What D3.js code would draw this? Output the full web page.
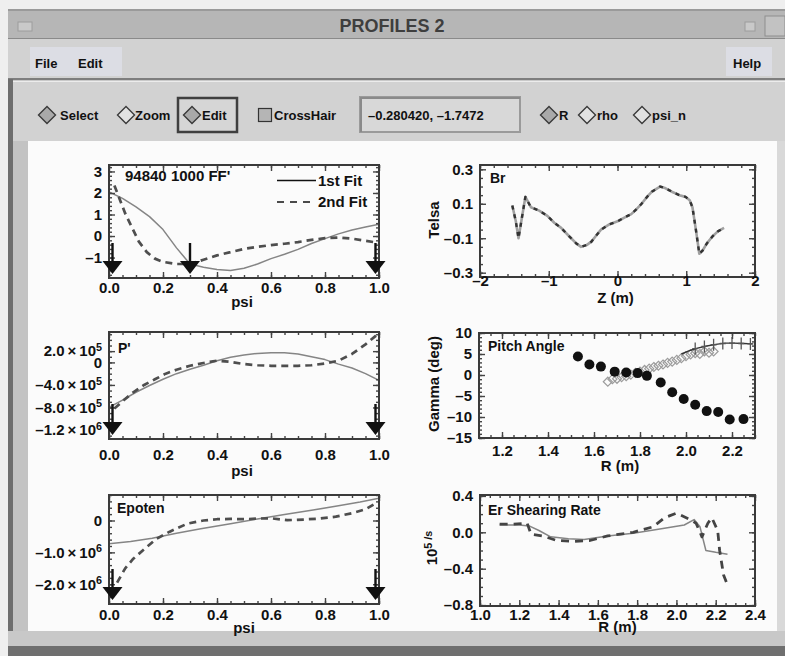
<!DOCTYPE html>
<html>
<head>
<meta charset="utf-8">
<script src="https://cdn.jsdelivr.net/npm/d3@7"></script>
<style>
  body { margin: 0; background: #ececec; }
  svg { display: block; font-family: "Liberation Sans", Arial, Helvetica, sans-serif; font-weight: bold; }
</style>
</head>
<body>
<script>
// ---- data ----
// FF' (psi)
var ffPsi1 = [0.0, 0.05, 0.10, 0.15, 0.20, 0.25, 0.30, 0.35, 0.40, 0.45, 0.50, 0.55, 0.60, 0.65, 0.70, 0.75, 0.80, 0.85, 0.90, 0.95, 1.0];
var ffFit1 = [2.05, 1.75, 1.35, 0.9, 0.3, -0.55, -1.3, -1.45, -1.55, -1.6, -1.5, -1.3, -1.05, -0.85, -0.62, -0.35, -0.12, 0.1, 0.28, 0.42, 0.55];
var ffPsi2 = [0.02, 0.04, 0.06, 0.085, 0.11, 0.14, 0.17, 0.20, 0.25, 0.30, 0.35, 0.40, 0.45, 0.50, 0.55, 0.60, 0.65, 0.70, 0.75, 0.80, 0.85, 0.90, 0.95, 1.0];
var ffFit2 = [2.35, 1.7, 1.05, 0.4, -0.25, -0.75, -1.05, -1.2, -1.3, -1.3, -1.1, -0.9, -0.75, -0.6, -0.5, -0.42, -0.36, -0.28, -0.18, -0.1, -0.07, -0.12, -0.22, -0.32];
var ffArrows = [0.013, 0.30, 0.987];
var ffTicks = [3, 2, 1, 0, -1];

// P' (psi)
var ppPsi1 = [0.0, 0.05, 0.10, 0.15, 0.20, 0.25, 0.30, 0.35, 0.40, 0.45, 0.50, 0.55, 0.60, 0.65, 0.70, 0.75, 0.80, 0.85, 0.90, 0.95, 1.0];
var ppFit1 = [-8.0e5, -6.7e5, -5.3e5, -4.1e5, -3.0e5, -2.0e5, -1.2e5, -0.5e5, 0.3e5, 0.9e5, 1.3e5, 1.6e5, 1.7e5, 1.7e5, 1.5e5, 1.0e5, 0.5e5, -0.3e5, -1.0e5, -2.0e5, -3.2e5];
var ppPsi2 = [0.02, 0.05, 0.09, 0.13, 0.17, 0.21, 0.25, 0.30, 0.35, 0.40, 0.45, 0.50, 0.55, 0.60, 0.65, 0.70, 0.75, 0.80, 0.85, 0.90, 0.95, 1.0];
var ppFit2 = [-8.2e5, -6.9e5, -5.3e5, -4.0e5, -3.0e5, -2.0e5, -1.3e5, -0.6e5, -0.1e5, 0.3e5, 0.1e5, -0.3e5, -0.5e5, -0.6e5, -0.6e5, -0.6e5, -0.5e5, -0.2e5, 0.3e5, 1.5e5, 3.2e5, 5.2e5];
var ppArrows = [0.013, 0.987];
var ppTicks = [2e5, 0, -4e5, -8e5, -1.2e6];

// Epoten (psi)
var epPsi1 = [0.0, 0.08, 0.16, 0.25, 0.34, 0.45, 0.55, 0.65, 0.75, 0.85, 0.93, 1.0];
var epFit1 = [-7.3e5, -6.6e5, -5.6e5, -4.0e5, -2.6e5, -1.0e5, 0.5e5, 1.9e5, 3.2e5, 4.6e5, 5.8e5, 7.0e5];
var epPsi2 = [0.03, 0.06, 0.09, 0.125, 0.175, 0.225, 0.29, 0.35, 0.40, 0.45, 0.50, 0.55, 0.60, 0.66, 0.72, 0.78, 0.84, 0.90, 0.95, 0.99];
var epFit2 = [-1.95e6, -1.5e6, -1.2e6, -9.4e5, -5.8e5, -3.5e5, -1.0e5, 0.0, 0.4e5, 0.5e5, 0.4e5, 0.6e5, 0.7e5, 0.1e5, 0.3e5, 0.6e5, 1.2e5, 2.3e5, 3.5e5, 5.5e5];
var epArrows = [0.013, 0.987];
var epTicks = [0, -1e6, -2e6];

var psiTicks = [0, 0.2, 0.4, 0.6, 0.8, 1.0];

// Br (Z)
var brZ = [-1.53, -1.48, -1.44, -1.39, -1.34, -1.26, -1.14, -1.02, -0.92, -0.82, -0.7, -0.6, -0.53, -0.45, -0.38, -0.3, -0.24, -0.12, 0.01, 0.1, 0.2, 0.28, 0.35, 0.43, 0.5, 0.62, 0.7, 0.79, 0.9, 0.99, 1.05, 1.09, 1.14, 1.19, 1.24, 1.3, 1.38, 1.46, 1.55];
var brVal = [0.09, 0.0, -0.1, 0.02, 0.14, 0.08, 0.06, 0.03, -0.01, -0.04, -0.09, -0.13, -0.15, -0.14, -0.12, -0.08, -0.05, -0.02, 0.0, 0.02, 0.04, 0.07, 0.1, 0.14, 0.17, 0.2, 0.19, 0.17, 0.15, 0.14, 0.12, 0.08, -0.05, -0.19, -0.17, -0.13, -0.09, -0.06, -0.04];
var brZTicks = [-2, -1, 0, 1, 2];
var brTicks = [0.3, 0.1, -0.1, -0.3];

// Pitch angle (R)
var paR = [1.53, 1.58, 1.63, 1.69, 1.74, 1.79, 1.83, 1.89, 1.94, 1.99, 2.04, 2.09, 2.14, 2.19, 2.25];
var paMeas = [4.4, 2.5, 2.0, 0.8, 0.6, 0.45, -0.2, -1.8, -4.1, -5.7, -7.1, -8.6, -8.8, -10.6, -10.5];
var paR2 = [1.66, 1.68, 1.70, 1.72, 1.74, 1.76, 1.78, 1.80, 1.82, 1.84, 1.86, 1.88, 1.90, 1.92, 1.94, 1.96, 1.98, 2.00, 2.02, 2.04, 2.06, 2.08, 2.10, 2.12];
var paVal2 = [-1.6, -1.0, -0.9, -0.5, -0.3, 0.1, 0.5, 0.8, 1.2, 1.5, 1.9, 2.2, 2.5, 2.9, 3.2, 3.6, 4.0, 4.5, 4.9, 5.2, 5.0, 5.6, 5.3, 5.6];
var paFitR = [1.98, 2.02, 2.05, 2.09, 2.13, 2.17, 2.21, 2.25, 2.29];
var paFitVal = [5.0, 5.9, 6.4, 6.9, 7.3, 7.6, 7.6, 7.5, 7.4];
var paErrR = [2.04, 2.08, 2.12, 2.16, 2.20, 2.24, 2.28];
var paErrVal = [6.3, 6.8, 7.2, 7.5, 7.6, 7.5, 7.4];
var paRTicks = [1.2, 1.4, 1.6, 1.8, 2.0, 2.2];
var paTicks = [10, 5, 0, -5, -10, -15];

// Er shearing rate (R)
var erR1 = [1.10, 1.15, 1.20, 1.25, 1.30, 1.36, 1.45, 1.53, 1.65, 1.78, 1.90, 2.04, 2.09, 2.12, 2.15, 2.20, 2.26];
var erFit1 = [0.08, 0.08, 0.08, 0.07, 0.02, -0.05, -0.07, -0.08, -0.04, -0.01, 0.03, 0.08, 0.14, 0.06, -0.2, -0.22, -0.24];
var erR2 = [1.10, 1.17, 1.24, 1.26, 1.32, 1.39, 1.48, 1.56, 1.65, 1.78, 1.88, 1.94, 2.0, 2.07, 2.10, 2.13, 2.16, 2.18, 2.21, 2.22, 2.24, 2.26];
var erFit2 = [0.09, 0.09, 0.1, -0.02, -0.04, -0.09, -0.1, -0.09, -0.04, 0.0, 0.06, 0.16, 0.21, 0.14, 0.1, -0.05, 0.1, 0.16, 0.02, -0.2, -0.47, -0.58];
var erRTicks = [1.0, 1.2, 1.4, 1.6, 1.8, 2.0, 2.2, 2.4];
var erTicks = [0.4, 0.0, -0.4, -0.8];

// ---- page ----
var svg = d3.select('body').append('svg')
  .attr('width', 785)
  .attr('height', 656);

function box(x, y, w, h, fill, stroke, sw) {
  var r = svg.append('rect').attr('x', x).attr('y', y).attr('width', w).attr('height', h).attr('fill', fill);
  if (stroke) r.attr('stroke', stroke).attr('stroke-width', sw || 1);
  return r;
}
function label(x, y, str, size, anchor, color) {
  return svg.append('text').attr('x', x).attr('y', y).attr('font-size', size)
    .attr('text-anchor', anchor || 'start').attr('fill', color || '#111').text(str);
}

// window chrome
box(0, 0, 785, 656, '#efefef');
box(8, 9, 777, 647, '#cfcfcf');
box(8, 9, 777, 30, '#b6b6b6');
box(8, 9, 777, 2, '#9a9a9a');
box(8, 38, 777, 1.5, '#8a8a8a');
label(392, 32, 'PROFILES 2', 18, 'middle', '#3e3e3e');
box(18, 22, 14, 9, '#c9c9c9', '#9c9c9c');
box(745, 22, 10, 9, '#c9c9c9', '#9c9c9c');
box(765, 16, 20, 20, '#c2c2c2', '#8e8e8e');

// menu bar
box(8, 39, 777, 40, '#d2d2d2');
box(30, 47, 92, 29, '#dcdde4');
box(726, 47, 46, 29, '#dcdde4');
label(35, 68, 'File', 13);
label(78, 68, 'Edit', 13);
label(733, 68, 'Help', 13);
box(8, 78, 777, 2.5, '#7e7e7e');
box(8, 80.5, 777, 1.5, '#ececec');

// tool bar
box(8, 82, 777, 59, '#d2d2d2');
function diamond(cx, cy, filled) {
  svg.append('path')
    .attr('d', 'M' + cx + ',' + (cy - 8.5) + 'L' + (cx + 8.5) + ',' + cy + 'L' + cx + ',' + (cy + 8.5) + 'L' + (cx - 8.5) + ',' + cy + 'Z')
    .attr('fill', filled ? '#a9a9a9' : '#e2e2e2')
    .attr('stroke', '#3a3a3a').attr('stroke-width', 1.4);
}
box(178, 98, 59, 34, '#d6d6d6', '#3f3f3f', 2.5);
box(360, 97, 160, 35, '#d8d8d8', '#9a9a9a', 2);
box(360, 97, 160, 2, '#8a8a8a');
box(360, 97, 2, 35, '#8a8a8a');
diamond(47, 115, true);
label(60, 120, 'Select', 13);
diamond(126, 115, false);
label(135, 120, 'Zoom', 13);
diamond(192, 115, true);
label(202, 120, 'Edit', 13);
box(258.5, 108.5, 13, 13, '#b5b5b5', '#333', 1.2);
label(274, 120, 'CrossHair', 13);
label(368, 120, '\u20130.280420,  \u20131.7472', 13);
diamond(549, 115, true);
label(559, 120, 'R', 13);
diamond(587, 115, false);
label(597, 120, 'rho', 13);
diamond(642, 115, false);
label(652, 120, 'psi_n', 13);

// plot area frame
box(8, 79, 5, 577, '#6e6e6e');
box(13, 141, 15, 490, '#c3c3c3');
box(28, 141, 749, 490, '#fbfbfb');
box(777, 141, 8, 490, '#d9d9d9');
box(8, 631, 777, 15, '#c8c8c8');
box(8, 646, 777, 10, '#6f6f6f');

// ---- panels ----
function steps(d, step) {
  var a = [], lo = Math.min(d[0], d[1]), hi = Math.max(d[0], d[1]);
  for (var v = Math.ceil(lo / step - 1e-9) * step; v <= hi + 1e-9; v += step) a.push(+v.toFixed(9));
  return a;
}
function dash(s) { return s.replace(/-/g, '\u2013'); }
function sci(v) {
  if (v === 0) return '0';
  var e = Math.floor(Math.log10(Math.abs(v)) + 1e-9);
  return dash((v / Math.pow(10, e)).toFixed(1)) + '\u2009\u00d7\u200910^' + e;
}
function rich(sel, str) {
  var parts = str.split('^');
  sel.text(null);
  sel.append('tspan').text(parts[0]);
  if (parts.length > 1) sel.append('tspan').attr('dy', '-0.5em').attr('font-size', '0.72em').text(parts[1]);
}

var clipId = 0;
function makePanel(o) {
  var p = {};
  p.x = d3.scaleLinear().domain(o.xd).range([o.l, o.r]);
  p.y = d3.scaleLinear().domain(o.yd).range([o.b, o.t]);
  p.g = svg.append('g');
  var id = 'clip' + (clipId++);
  p.g.append('clipPath').attr('id', id).append('rect')
    .attr('x', o.l).attr('y', o.t).attr('width', o.r - o.l).attr('height', o.b - o.t);
  p.plot = p.g.append('g').attr('clip-path', 'url(#' + id + ')');
  p.top = p.g.append('g');

  // frame ticks on all four sides
  function side(axisFn, scale, vals, len, tr) {
    p.top.append('g').attr('transform', tr).attr('color', '#444')
      .call(axisFn(scale).tickValues(vals).tickSize(-len).tickFormat(''))
      .call(function(s) { s.select('.domain').remove(); s.selectAll('line').attr('stroke-width', 1.4); });
  }
  [[o.xMinor, 3], [o.xMajor, 6]].forEach(function(t) {
    side(d3.axisBottom, p.x, t[0], t[1], 'translate(0,' + o.b + ')');
    side(d3.axisTop, p.x, t[0], t[1], 'translate(0,' + o.t + ')');
  });
  [[o.yMinor, 3], [o.yMajor, 6]].forEach(function(t) {
    side(d3.axisLeft, p.y, t[0], t[1], 'translate(' + o.l + ',0)');
    side(d3.axisRight, p.y, t[0], t[1], 'translate(' + o.r + ',0)');
  });
  p.top.append('rect').attr('x', o.l).attr('y', o.t).attr('width', o.r - o.l).attr('height', o.b - o.t)
    .attr('fill', 'none').attr('stroke', '#3a3a3a').attr('stroke-width', 2);

  // tick labels
  p.top.append('g').attr('transform', 'translate(0,' + o.xLabY + ')')
    .call(d3.axisBottom(p.x).tickValues(o.xMajor).tickSize(0).tickPadding(0).tickFormat(o.xFmt))
    .call(function(s) {
      s.select('.domain').remove();
      s.attr('font-size', 15).attr('font-family', null).attr('color', '#111');
      s.selectAll('text').attr('y', 0).attr('dy', '0.36em');
    });
  p.top.append('g').attr('transform', 'translate(' + (o.l - 7) + ',0)')
    .call(d3.axisLeft(p.y).tickValues(o.yLabels).tickSize(0).tickPadding(0).tickFormat(o.yFmt))
    .call(function(s) {
      s.select('.domain').remove();
      s.attr('font-size', 15).attr('font-family', null).attr('color', '#111');
      s.selectAll('text').each(function(d) { rich(d3.select(this), o.yFmt(d)); });
    });

  // titles
  p.top.append('text').attr('x', o.titleX).attr('y', o.titleY).attr('font-size', o.titleSize || 14)
    .attr('fill', '#111').text(o.title);
  p.top.append('text').attr('x', (o.l + o.r) / 2 + (o.xTitleDx || 0)).attr('y', o.xTitleY)
    .attr('font-size', 15).attr('text-anchor', 'middle').attr('fill', '#111').text(o.xTitle);
  if (o.yTitle) {
    var yt = p.top.append('text')
      .attr('transform', 'translate(' + o.yTitleX + ',' + o.yTitleY + ') rotate(-90)')
      .attr('font-size', 15).attr('text-anchor', 'middle').attr('dy', '0.36em').attr('fill', '#111');
    rich(yt, o.yTitle);
  }
  return p;
}

function curve(p, xs, ys, color, width, dasharray) {
  var line = d3.line().x(function(d) { return p.x(d[0]); }).y(function(d) { return p.y(d[1]); });
  var path = p.plot.append('path').datum(d3.zip(xs, ys)).attr('d', line)
    .attr('fill', 'none').attr('stroke', color).attr('stroke-width', width)
    .attr('stroke-linejoin', 'round');
  if (dasharray) path.attr('stroke-dasharray', dasharray);
  return path;
}

function arrows(p, vals) {
  var b = p.y.range()[0];
  vals.forEach(function(v) {
    var cx = p.x(v);
    p.top.append('line').attr('x1', cx).attr('x2', cx).attr('y1', b - 35).attr('y2', b - 14)
      .attr('stroke', '#111').attr('stroke-width', 2.4);
    p.top.append('path')
      .attr('d', 'M' + (cx - 10) + ',' + (b - 17) + 'L' + (cx + 10) + ',' + (b - 17) + 'L' + cx + ',' + (b - 4) + 'Z')
      .attr('fill', '#111');
  });
}

var psiFmt = function(d) { return d.toFixed(1); };

// FF'
var pFF = makePanel({
  l: 109, t: 165, r: 379, b: 278, xd: [0, 1], yd: [-1.95, 3.3],
  xMajor: psiTicks, xMinor: steps([0, 1], 0.05),
  yMajor: ffTicks, yMinor: steps([-1.95, 3.3], 0.2), yLabels: ffTicks,
  xFmt: psiFmt, yFmt: function(d) { return dash(String(d)); },
  xLabY: 288, xTitle: 'psi', xTitleY: 307, xTitleDx: -2,
  title: "94840 1000 FF'", titleX: 125, titleY: 181, titleSize: 15
});
curve(pFF, ffPsi1, ffFit1, '#858585', 1.5);
curve(pFF, ffPsi2, ffFit2, '#4e4e4e', 2.7, '7,5');
arrows(pFF, ffArrows);
pFF.top.append('line').attr('x1', 277).attr('x2', 316).attr('y1', 180.5).attr('y2', 180.5)
  .attr('stroke', '#111').attr('stroke-width', 1.4);
pFF.top.append('text').attr('x', 318).attr('y', 186).attr('font-size', 15).attr('fill', '#111').text('1st Fit');
pFF.top.append('line').attr('x1', 277).attr('x2', 312).attr('y1', 202).attr('y2', 202)
  .attr('stroke', '#111').attr('stroke-width', 1.4).attr('stroke-dasharray', '7,6');
pFF.top.append('text').attr('x', 318).attr('y', 207).attr('font-size', 15).attr('fill', '#111').text('2nd Fit');

// Br
var pBr = makePanel({
  l: 480, t: 165, r: 755, b: 277, xd: [-2, 2], yd: [-0.325, 0.325],
  xMajor: brZTicks, xMinor: steps([-2, 2], 0.2),
  yMajor: brTicks, yMinor: steps([-0.325, 0.325], 0.05), yLabels: brTicks,
  xFmt: function(d) { return dash(String(d)); }, yFmt: function(d) { return dash(d.toFixed(1)); },
  xLabY: 281, xTitle: 'Z (m)', xTitleY: 303, xTitleDx: -2,
  yTitle: 'Telsa', yTitleX: 434, yTitleY: 220,
  title: 'Br', titleX: 490, titleY: 183
});
curve(pBr, brZ, brVal, '#a0a0a0', 2.6);
curve(pBr, brZ, brVal, '#333', 2.4, '4,5');

// P'
var pPP = makePanel({
  l: 109, t: 332, r: 379, b: 439, xd: [0, 1], yd: [-1.36e6, 5.4e5],
  xMajor: psiTicks, xMinor: steps([0, 1], 0.05),
  yMajor: ppTicks, yMinor: steps([-1.36e6, 5.4e5], 1e5), yLabels: ppTicks,
  xFmt: psiFmt, yFmt: sci,
  xLabY: 455, xTitle: 'psi', xTitleY: 476, xTitleDx: -2,
  title: "P'", titleX: 118, titleY: 353
});
curve(pPP, ppPsi1, ppFit1, '#858585', 1.5);
curve(pPP, ppPsi2, ppFit2, '#4e4e4e', 2.7, '7,5');
arrows(pPP, ppArrows);

// Pitch angle
var pPA = makePanel({
  l: 479, t: 333, r: 755, b: 438, xd: [1.1, 2.3], yd: [-15, 10],
  xMajor: paRTicks, xMinor: steps([1.1, 2.3], 0.05),
  yMajor: paTicks, yMinor: steps([-15, 10], 1), yLabels: paTicks,
  xFmt: psiFmt, yFmt: function(d) { return dash(String(d)); },
  xLabY: 451, xTitle: 'R (m)', xTitleY: 471, xTitleDx: 3,
  yTitle: 'Gamma (deg)', yTitleX: 434, yTitleY: 384,
  title: 'Pitch Angle', titleX: 488, titleY: 351
});
pPA.plot.selectAll('path.dia').data(d3.zip(paR2, paVal2)).enter().append('path')
  .attr('class', 'dia')
  .attr('d', function(d) {
    var cx = pPA.x(d[0]), cy = pPA.y(d[1]);
    return 'M' + cx + ',' + (cy - 4.5) + 'L' + (cx + 4.5) + ',' + cy + 'L' + cx + ',' + (cy + 4.5) + 'L' + (cx - 4.5) + ',' + cy + 'Z';
  })
  .attr('fill', 'none').attr('stroke', '#9c9c9c').attr('stroke-width', 1.2);
curve(pPA, paFitR, paFitVal, '#333', 1.4);
pPA.plot.selectAll('path.err').data(d3.zip(paErrR, paErrVal)).enter().append('path')
  .attr('class', 'err')
  .attr('d', function(d) {
    var cx = pPA.x(d[0]), cy = pPA.y(d[1]);
    return 'M' + cx + ',' + (cy - 6) + 'V' + (cy + 6) + 'M' + (cx - 3) + ',' + cy + 'H' + (cx + 3);
  })
  .attr('stroke', '#555').attr('stroke-width', 1.3);
pPA.plot.selectAll('circle').data(d3.zip(paR, paMeas)).enter().append('circle')
  .attr('cx', function(d) { return pPA.x(d[0]); })
  .attr('cy', function(d) { return pPA.y(d[1]); })
  .attr('r', 5).attr('fill', '#111');

// Epoten
var pEP = makePanel({
  l: 109, t: 495, r: 379, b: 604, xd: [0, 1], yd: [-2.62e6, 0.8e6],
  xMajor: psiTicks, xMinor: steps([0, 1], 0.05),
  yMajor: epTicks, yMinor: steps([-2.62e6, 0.8e6], 2e5), yLabels: epTicks,
  xFmt: psiFmt, yFmt: sci,
  xLabY: 615, xTitle: 'psi', xTitleY: 633, xTitleDx: 0,
  title: 'Epoten', titleX: 117, titleY: 513
});
curve(pEP, epPsi1, epFit1, '#858585', 1.5);
curve(pEP, epPsi2, epFit2, '#4e4e4e', 2.7, '7,5');
arrows(pEP, epArrows);

// Er shearing rate
var pER = makePanel({
  l: 480, t: 495, r: 755, b: 606, xd: [1.0, 2.4], yd: [-0.81, 0.41],
  xMajor: erRTicks, xMinor: steps([1.0, 2.4], 0.05),
  yMajor: erTicks, yMinor: steps([-0.81, 0.41], 0.1), yLabels: erTicks,
  xFmt: psiFmt, yFmt: function(d) { return dash(d.toFixed(1)); },
  xLabY: 615, xTitle: 'R (m)', xTitleY: 632, xTitleDx: 0,
  yTitle: '10^5 /s', yTitleX: 432, yTitleY: 548,
  title: 'Er Shearing Rate', titleX: 488, titleY: 515
});
curve(pER, erR1, erFit1, '#858585', 1.5);
curve(pER, erR2, erFit2, '#444', 2.8, '8,6');
</script>
</body>
</html>
